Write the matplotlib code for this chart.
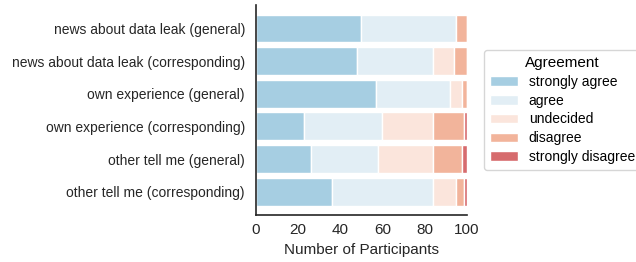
import numpy as np
import matplotlib
matplotlib.use("Agg")
import matplotlib.pyplot as plt

# Data (rows top to bottom)
questions = ["news about data leak (general)",
             "news about data leak (corresponding)",
             "own experience (general)",
             "own experience (corresponding)",
             "other tell me (general)",
             "other tell me (corresponding)"]
levels = ["strongly agree", "agree", "undecided", "disagree", "strongly disagree"]

strongly_agree = [50, 48, 57, 23, 26, 36]
agree = [45, 36, 35, 37, 32, 48]
undecided = [0, 10, 6, 24, 26, 11]
disagree = [5, 6, 2, 15, 14, 4]
strongly_disagree = [0, 0, 0, 1, 2, 1]

colors = ["#a6cee2", "#e2eef5", "#fbe5dc", "#f2b49b", "#d66b6d"]

plt.rcParams['font.family'] = ['Liberation Sans', 'DejaVu Sans']

fig = plt.figure(figsize=(6.36, 2.62), dpi=100)
ax = fig.add_axes([0.4025, 0.179, 0.331, 0.802])

y = np.arange(len(questions))
left = np.zeros(len(questions))
for lab, vals, c in zip(levels, [strongly_agree, agree, undecided, disagree, strongly_disagree], colors):
    vals = np.array(vals)
    ax.barh(y, vals, left=left, height=0.85, color=c, edgecolor="white", linewidth=1, label=lab)
    left += vals

ax.set_yticks(y)
ax.set_yticklabels(questions, fontsize=10, color="#262626")
ax.invert_yaxis()
ax.set_xlim(0, 100)
ax.set_xticks([0, 20, 40, 60, 80, 100])
ax.tick_params(axis='x', labelsize=11, labelcolor="#262626", length=0, pad=6)
ax.tick_params(axis='y', length=0, pad=8)
ax.set_xlabel("Number of Participants", fontsize=11, color="#262626", labelpad=4)
for s in ["top", "right"]:
    ax.spines[s].set_visible(False)
for s in ["left", "bottom"]:
    ax.spines[s].set_color("#262626")
    ax.spines[s].set_linewidth(1.2)

leg = ax.legend(title="Agreement", loc="center left", bbox_to_anchor=(1.085, 0.5),
                borderaxespad=0, fontsize=10, title_fontsize=11, frameon=True,
                handlelength=2.0, borderpad=0.4, labelspacing=0.35)
leg.get_frame().set_edgecolor("#cccccc")

fig.savefig("out.png", dpi=100)
